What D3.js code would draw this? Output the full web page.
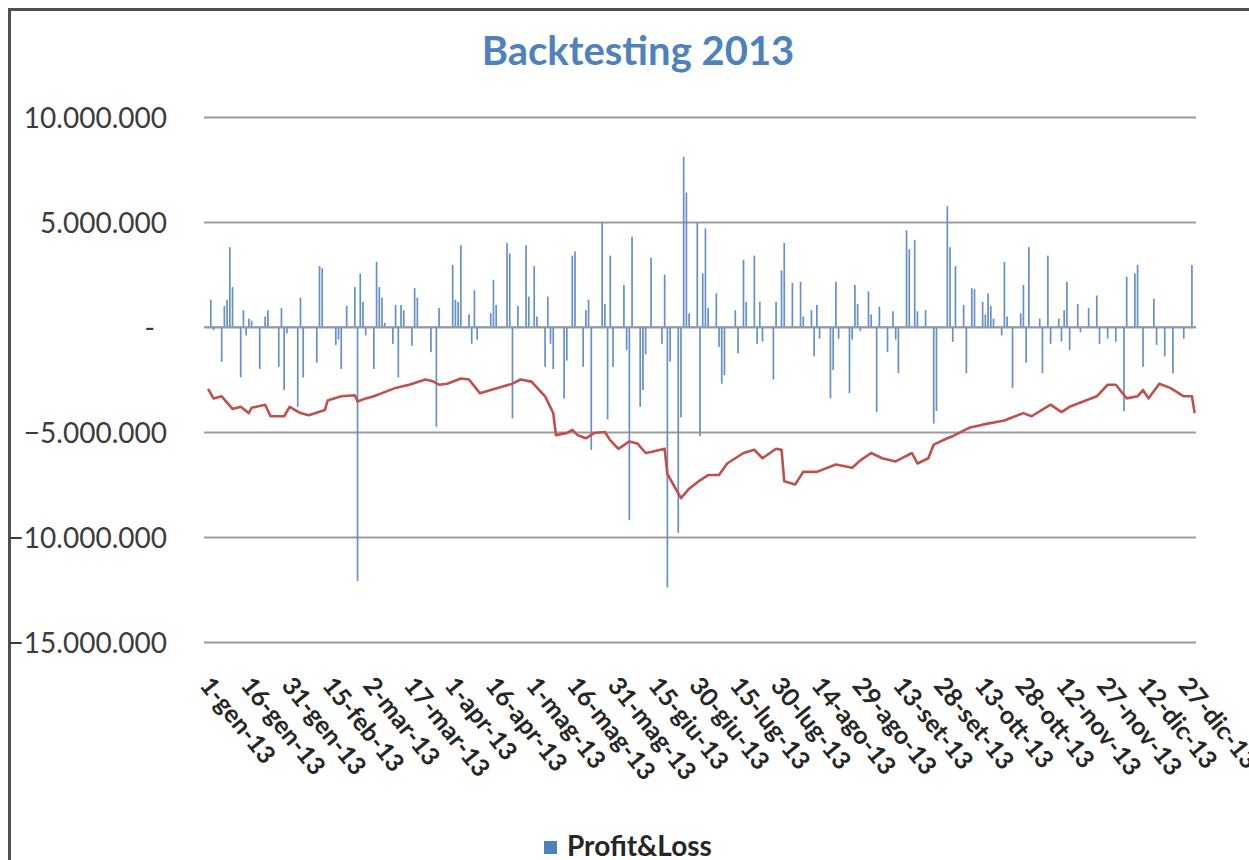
<!DOCTYPE html>
<html>
<head>
<meta charset="utf-8">
<script src="https://cdn.jsdelivr.net/npm/d3@7"></script>
<style>
  html, body { margin: 0; padding: 0; background: #ffffff; }
  svg { display: block; }
</style>
</head>
<body>
<svg id="chart" width="1249" height="860"></svg>
<script>
// ---- Data -------------------------------------------------------------
const chartTitle = "Backtesting 2013";
const legendLabel = "Profit&Loss";

const tickLabels = [
  "1-gen-13", "16-gen-13", "31-gen-13", "15-feb-13", "2-mar-13", "17-mar-13",
  "1-apr-13", "16-apr-13", "1-mag-13", "16-mag-13", "31-mag-13", "15-giu-13",
  "30-giu-13", "15-lug-13", "30-lug-13", "14-ago-13", "29-ago-13", "13-set-13",
  "28-set-13", "13-ott-13", "28-ott-13", "12-nov-13", "27-nov-13", "12-dic-13",
  "27-dic-13"
];
const monthNamesIt = ["gen", "feb", "mar", "apr", "mag", "giu", "lug", "ago", "set", "ott", "nov", "dic"];

const yTicks = [-15000000, -10000000, -5000000, 0, 5000000, 10000000];

// Daily profit & loss
const pnlDates = [
  "2013-01-03","2013-01-04","2013-01-07","2013-01-08","2013-01-09","2013-01-10","2013-01-11","2013-01-14",
  "2013-01-15","2013-01-16","2013-01-17","2013-01-18","2013-01-21","2013-01-23","2013-01-24","2013-01-28",
  "2013-01-29","2013-01-30","2013-01-31","2013-02-04","2013-02-05","2013-02-06","2013-02-11","2013-02-12",
  "2013-02-13","2013-02-18","2013-02-19","2013-02-20","2013-02-22","2013-02-25","2013-02-26","2013-02-27",
  "2013-02-28","2013-03-01","2013-03-04","2013-03-05","2013-03-06","2013-03-07","2013-03-08","2013-03-11",
  "2013-03-12","2013-03-13","2013-03-14","2013-03-15","2013-03-18","2013-03-19","2013-03-20","2013-03-25",
  "2013-03-27","2013-03-28","2013-04-02","2013-04-03","2013-04-04","2013-04-05","2013-04-08","2013-04-09",
  "2013-04-10","2013-04-11","2013-04-16","2013-04-17","2013-04-18","2013-04-22","2013-04-23","2013-04-24",
  "2013-04-26","2013-04-29","2013-04-30","2013-05-02","2013-05-03","2013-05-06","2013-05-07","2013-05-08",
  "2013-05-09","2013-05-13","2013-05-14","2013-05-16","2013-05-17","2013-05-20","2013-05-21","2013-05-22",
  "2013-05-23","2013-05-27","2013-05-28","2013-05-29","2013-05-30","2013-05-31","2013-06-04","2013-06-05",
  "2013-06-06","2013-06-07","2013-06-10","2013-06-11","2013-06-12","2013-06-14","2013-06-18","2013-06-19",
  "2013-06-20","2013-06-21","2013-06-24","2013-06-25","2013-06-26","2013-06-27","2013-06-28","2013-07-01",
  "2013-07-02","2013-07-03","2013-07-04","2013-07-05","2013-07-08","2013-07-09","2013-07-10","2013-07-11",
  "2013-07-15","2013-07-16","2013-07-18","2013-07-19","2013-07-22","2013-07-23","2013-07-24","2013-07-25",
  "2013-07-29","2013-07-30","2013-08-01","2013-08-02","2013-08-05","2013-08-08","2013-08-09","2013-08-12",
  "2013-08-13","2013-08-14","2013-08-15","2013-08-19","2013-08-20","2013-08-21","2013-08-22","2013-08-26",
  "2013-08-27","2013-08-28","2013-08-29","2013-08-30","2013-09-02","2013-09-03","2013-09-05","2013-09-06",
  "2013-09-09","2013-09-11","2013-09-12","2013-09-13","2013-09-16","2013-09-17","2013-09-19","2013-09-20",
  "2013-09-23","2013-09-26","2013-09-27","2013-10-01","2013-10-02","2013-10-03","2013-10-04","2013-10-07",
  "2013-10-08","2013-10-10","2013-10-11","2013-10-14","2013-10-15","2013-10-16","2013-10-17","2013-10-18",
  "2013-10-21","2013-10-22","2013-10-23","2013-10-25","2013-10-28","2013-10-29","2013-10-30","2013-10-31",
  "2013-11-04","2013-11-05","2013-11-07","2013-11-08","2013-11-11","2013-11-12","2013-11-13","2013-11-14",
  "2013-11-15","2013-11-18","2013-11-19","2013-11-22","2013-11-25","2013-11-26","2013-11-29","2013-12-02",
  "2013-12-05","2013-12-06","2013-12-09","2013-12-10","2013-12-12","2013-12-16","2013-12-17","2013-12-20",
  "2013-12-23","2013-12-27","2013-12-30"
];
const pnlValues = [
  1300000, -150000, -1650000, 1000000, 1300000, 3800000, 1900000, -2400000,
  800000, -400000, 400000, 300000, -2000000, 500000, 800000, -1900000,
  900000, -3000000, -300000, -3800000, 1400000, -2400000, -1700000, 2900000,
  2800000, -850000, -600000, -2000000, 1000000, 1900000, -12100000, 2550000,
  1200000, -400000, -2000000, 3100000, 1900000, 1400000, 200000, -800000,
  1050000, -2400000, 1050000, 800000, -900000, 1850000, 1400000, -1200000,
  -4750000, 900000, 2950000, 1300000, 1200000, 3900000, 600000, -800000,
  1750000, -600000, 650000, 2250000, 1050000, 4000000, 3500000, -4350000,
  1000000, 3900000, 1450000, 2900000, 500000, -1900000, 1450000, -800000,
  -2000000, -3400000, -1600000, 3400000, 3600000, -1900000, 800000, 1300000,
  -5850000, 5000000, 1100000, -4400000, 3400000, -1900000, 2000000, -1100000,
  -9200000, 4300000, -3800000, -3000000, -1300000, 3300000, -800000, 2500000,
  -12400000, -1650000, -9800000, -4300000, 8100000, 6400000, 650000, 4950000,
  -5200000, 2550000, 4700000, 900000, 1600000, -950000, -2700000, -2300000,
  800000, -1250000, 3200000, 1200000, 3400000, -800000, 1200000, -700000,
  -2500000, 1200000, 2700000, 4000000, 2100000, 2150000, 500000, 800000,
  -1400000, 1050000, -550000, -3400000, -2050000, 2150000, -550000, -3150000,
  -600000, 2000000, 1100000, -200000, 1700000, 600000, -4050000, 970000,
  -1200000, 750000, -600000, -2200000, 4600000, 3700000, 4150000, 750000,
  800000, -4600000, -4000000, 5750000, 3800000, -700000, 2900000, 1050000,
  -2200000, 1850000, 1800000, 1200000, 600000, 1600000, 1000000, 400000,
  -400000, 3100000, 500000, -2900000, 650000, 2000000, -1700000, 3800000,
  400000, -2200000, 3400000, -800000, 400000, -700000, 800000, 2150000,
  -1100000, 1100000, -250000, 900000, 1500000, -800000, -550000, -700000,
  -4000000, 2400000, 2550000, 2950000, -1900000, 1350000, -850000, -1400000,
  -2200000, -550000, 2950000
];

// Running equity curve
const equityDates = [
  "2013-01-02","2013-01-04","2013-01-07","2013-01-11","2013-01-14","2013-01-17","2013-01-18","2013-01-23",
  "2013-01-25","2013-01-30","2013-02-01","2013-02-05","2013-02-08","2013-02-14","2013-02-15","2013-02-20",
  "2013-02-25","2013-02-26","2013-03-01","2013-03-04","2013-03-08","2013-03-12","2013-03-17","2013-03-23",
  "2013-03-26","2013-03-28","2013-03-31","2013-04-05","2013-04-08","2013-04-12","2013-04-16","2013-04-24",
  "2013-04-27","2013-05-01","2013-05-06","2013-05-09","2013-05-10","2013-05-14","2013-05-16","2013-05-18",
  "2013-05-21","2013-05-24","2013-05-28","2013-05-30","2013-06-02","2013-06-06","2013-06-09","2013-06-12",
  "2013-06-14","2013-06-19","2013-06-20","2013-06-25","2013-06-28","2013-07-02","2013-07-05","2013-07-09",
  "2013-07-12","2013-07-18","2013-07-22","2013-07-25","2013-07-30","2013-08-01","2013-08-02","2013-08-06",
  "2013-08-09","2013-08-14","2013-08-21","2013-08-27","2013-08-30","2013-09-03","2013-09-07","2013-09-12",
  "2013-09-18","2013-09-20","2013-09-24","2013-09-26","2013-10-01","2013-10-03","2013-10-09","2013-10-14",
  "2013-10-22","2013-10-29","2013-11-01","2013-11-08","2013-11-12","2013-11-15","2013-11-20","2013-11-25",
  "2013-11-29","2013-12-02","2013-12-06","2013-12-10","2013-12-12","2013-12-14","2013-12-18","2013-12-22",
  "2013-12-27","2013-12-30","2013-12-31"
];
const equityValues = [
  -2950000, -3400000, -3300000, -3900000, -3800000, -4100000, -3850000, -3700000,
  -4250000, -4250000, -3800000, -4100000, -4200000, -3950000, -3500000, -3300000,
  -3250000, -3550000, -3400000, -3300000, -3100000, -2900000, -2750000, -2500000,
  -2600000, -2750000, -2700000, -2450000, -2500000, -3150000, -3000000, -2700000,
  -2500000, -2600000, -3300000, -4100000, -5150000, -5050000, -4900000, -5150000,
  -5300000, -5050000, -5000000, -5400000, -5800000, -5450000, -5550000, -6000000,
  -5950000, -5800000, -7000000, -8150000, -7700000, -7300000, -7050000, -7050000,
  -6500000, -6000000, -5850000, -6250000, -5800000, -5850000, -7350000, -7500000,
  -6900000, -6900000, -6550000, -6700000, -6350000, -6000000, -6250000, -6400000,
  -6000000, -6500000, -6250000, -5600000, -5300000, -5200000, -4800000, -4650000,
  -4450000, -4100000, -4250000, -3700000, -4050000, -3800000, -3550000, -3300000,
  -2750000, -2750000, -3400000, -3300000, -3000000, -3400000, -2700000, -2900000,
  -3300000, -3300000, -4100000
];

// ---- Layout ------------------------------------------------------------
const plot = { left: 204, right: 1196, top: 117, bottom: 642 };
const svg = d3.select("#chart");
const parseDate = d3.utcParse("%Y-%m-%d");

const x = d3.scaleUtc()
  .domain([parseDate("2013-01-01"), parseDate("2014-01-01")])
  .range([plot.left, plot.right]);
const dayWidth = (plot.right - plot.left) / 365;
// each day occupies one slot; marks sit in the middle of the slot
const xc = x.copy().range([plot.left + dayWidth / 2, plot.right + dayWidth / 2]);

const y = d3.scaleLinear().domain([-15000000, 10000000]).range([plot.bottom, plot.top]);

const itLocale = d3.formatLocale({ decimal: ",", thousands: ".", grouping: [3], currency: ["€", ""] });
const fmtNum = itLocale.format(",d");

const parseItLabel = s => {
  const [d, m, yy] = s.split("-");
  return new Date(Date.UTC(2000 + (+yy), monthNamesIt.indexOf(m), +d));
};
const tickDates = tickLabels.map(parseItLabel);

const font = "Lato, 'Open Sans', 'DejaVu Sans', sans-serif";

// outer chart frame
svg.append("rect")
  .attr("x", 9.5).attr("y", 9.5)
  .attr("width", 1300).attr("height", 900)
  .attr("fill", "#ffffff")
  .attr("stroke", "#505050").attr("stroke-width", 3);

// title
svg.append("text")
  .attr("x", 638).attr("y", 65)
  .attr("text-anchor", "middle")
  .attr("font-family", font).attr("font-weight", 700).attr("font-size", 40)
  .attr("fill", "#4f81bd")
  .text(chartTitle);

// horizontal gridlines
const grid = svg.append("g")
  .attr("transform", `translate(${plot.left},0)`)
  .call(d3.axisLeft(y).tickValues(yTicks).tickSize(-(plot.right - plot.left)).tickFormat(""));
grid.select(".domain").remove();
grid.selectAll(".tick line").attr("stroke", "#9c9c9c").attr("stroke-width", 2);

// y axis labels
const yAxis = svg.append("g")
  .attr("transform", `translate(${plot.left},0)`)
  .call(d3.axisLeft(y).tickValues(yTicks).tickSize(0).tickPadding(37)
    .tickFormat(v => v === 0 ? "-" : fmtNum(v)));
yAxis.select(".domain").remove();
yAxis.selectAll(".tick text")
  .attr("font-family", font).attr("font-size", 28).attr("fill", "#3c3c3c")
  .attr("dy", "0.36em")
  .attr("dx", v => v === 0 ? -12 : 0);

// daily P&L columns
const bars = pnlDates.map((d, i) => ({ date: parseDate(d), value: pnlValues[i] }));
const barWidth = 1.7;
svg.append("g").selectAll("rect")
  .data(bars)
  .join("rect")
  .attr("x", d => xc(d.date) - barWidth / 2)
  .attr("y", d => Math.min(y(d.value), y(0)))
  .attr("width", barWidth)
  .attr("height", d => Math.abs(y(d.value) - y(0)))
  .attr("fill", "#6690c9");

// horizontal category axis line at zero
svg.append("line")
  .attr("x1", plot.left).attr("x2", plot.right)
  .attr("y1", y(0)).attr("y2", y(0))
  .attr("stroke", "#8f9bb0").attr("stroke-width", 1.5);

// equity line
const equity = equityDates.map((d, i) => ({ date: parseDate(d), value: equityValues[i] }));
svg.append("path")
  .datum(equity)
  .attr("fill", "none")
  .attr("stroke", "#c0504d")
  .attr("stroke-width", 2.6)
  .attr("stroke-linejoin", "round")
  .attr("d", d3.line().x(d => xc(d.date)).y(d => y(d.value)));

// x axis labels (rotated)
const xAxis = svg.append("g")
  .attr("transform", `translate(0,688)`)
  .call(d3.axisBottom(xc).tickValues(tickDates).tickSize(0).tickFormat((d, i) => tickLabels[i]));
xAxis.select(".domain").remove();
xAxis.selectAll(".tick text")
  .attr("font-family", font).attr("font-weight", 700).attr("font-size", 25).attr("fill", "#262626")
  .attr("x", 0).attr("y", 0).attr("dy", 0)
  .attr("text-anchor", "start")
  .attr("transform", "translate(-7,-2) rotate(51)");

// legend
const legend = svg.append("g");
legend.append("rect")
  .attr("x", 544).attr("y", 841).attr("width", 13).attr("height", 13)
  .attr("fill", "#4f81bd");
legend.append("text")
  .attr("x", 567).attr("y", 856)
  .attr("font-family", font).attr("font-weight", 700).attr("font-size", 28)
  .attr("fill", "#262626")
  .text(legendLabel);
</script>
</body>
</html>
